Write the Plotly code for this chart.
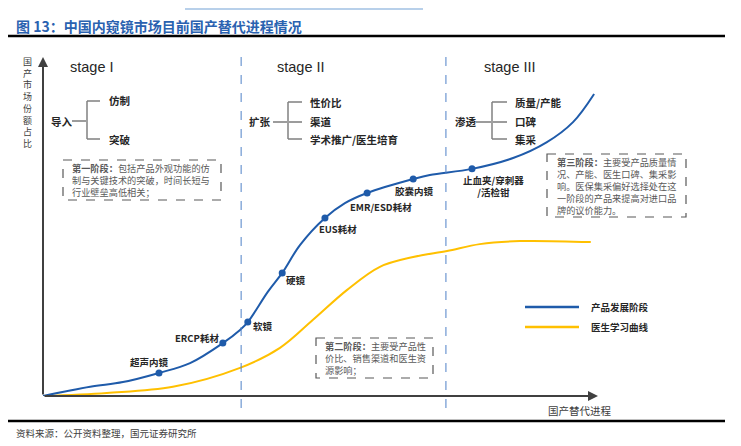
import plotly.graph_objects as go

W, H = 741, 446
OFF = 8  # the page body keeps a default 8px margin

# ---- data (x: 国产替代进程 0-100, y: 国产市场份额占比 0-100) ----
product_x = [0, 8.5, 14.4, 20.9, 26.5, 32.4, 35.5, 36.9, 40.5, 43.1, 46.3,
             50.8, 54.4, 58.4, 66.7, 69.7, 77.3, 84.7, 90.8, 95.5, 99.3]
product_y = [0, 2.7, 4.1, 6.8, 9.7, 15.6, 19.5, 21.8, 30.7, 36.3, 44.5,
             52.5, 56.9, 59.9, 64.0, 65.2, 67.0, 70.2, 74.9, 80.8, 89.1]

doctor_x = [0, 11.5, 23.4, 35.5, 42.7, 48.6, 54.8, 60.7, 66.7, 72.8, 78.7, 85.9, 98.7]
doctor_y = [0, 0.9, 2.7, 8.3, 14.2, 22.4, 31.3, 38.1, 41.0, 42.8, 44.8, 45.7, 45.4]

milestones = ["超声内镜", "ERCP耗材", "软镜", "硬镜", "EUS耗材", "EMR/ESD耗材",
              "胶囊内镜", "止血夹/穿刺器<br>/活检钳"]
milestone_x = [20.9, 32.4, 36.9, 43.1, 50.8, 58.4, 66.7, 77.3]
milestone_y = [6.8, 15.6, 21.8, 36.3, 52.5, 59.9, 64.0, 67.0]

stage_bounds = [35.7, 72.6]
stage_names = ["stage I", "stage II", "stage III"]
stage_heads = ["导入", "扩张", "渗透"]
stage_items = [["仿制", "突破"],
               ["性价比", "渠道", "学术推广/医生培育"],
               ["质量/产能", "口碑", "集采"]]
stage_notes = [
    "<b>第一阶段：</b>包括产品外观功能的仿<br>制与关键技术的突破，时间长短与<br>行业壁垒高低相关；",
    "<b>第二阶段：</b>主要受产品性<br>价比、销售渠道和医生资<br>源影响；",
    "<b>第三阶段：</b>主要受产品质量情<br>况、产能、医生口碑、集采影<br>响。医保集采偏好选择处在这<br>一阶段的产品来提高对进口品<br>牌的议价能力。",
]
series_names = ["产品发展阶段", "医生学习曲线"]

# ---- styling ----
BLUE = "#1f5baa"
GOLD = "#ffc000"
CJK = "Noto Sans CJK SC"
FW, FH = W - OFF, H - OFF


def px(x):
    return (x - OFF) / FW


def py(y):
    return 1 - (y - OFF) / FH


def txt(x, y, text, size, color="#262626", xanchor="left", family=CJK, **kw):
    return dict(x=px(x), y=py(y), xref="paper", yref="paper", text=text, showarrow=False,
                xanchor=xanchor, yanchor="middle", font=dict(family=family, size=size, color=color),
                **kw)


def hline(x0, x1, y, color, width, dash="solid"):
    return dict(type="line", xref="paper", yref="paper", x0=px(x0), x1=px(x1),
                y0=py(y), y1=py(y), line=dict(color=color, width=width, dash=dash))


label_shift = [(-9, 11), (-26, 5), (15, -4), (14, -7), (13, -11), (14, -14), (1, -12), (21, -17)]

fig = go.Figure()
fig.add_trace(go.Scatter(x=doctor_x, y=doctor_y, mode="lines", name=series_names[1],
                         line=dict(color=GOLD, width=2, shape="spline")))
fig.add_trace(go.Scatter(x=product_x, y=product_y, mode="lines", name=series_names[0],
                         line=dict(color=BLUE, width=2, shape="spline")))
fig.add_trace(go.Scatter(x=milestone_x, y=milestone_y, mode="markers",
                         marker=dict(color=BLUE, size=7)))

ann = []
shapes = []

# milestone labels
for name, x, y, (dx, dy) in zip(milestones, milestone_x, milestone_y, label_shift):
    ann.append(dict(x=x, y=y, xref="x", yref="y", text=f"<b>{name}</b>", showarrow=False,
                    xanchor="center", yanchor="middle", xshift=dx, yshift=dy,
                    font=dict(family=CJK, size=9.5, color="#262626")))

# axes with arrows
ann.append(dict(x=0, y=100, ax=0, ay=0, xref="x", yref="y", axref="x", ayref="y", text="",
                showarrow=True, arrowhead=2, arrowsize=1, arrowwidth=2, arrowcolor="#404040"))
ann.append(dict(x=100, y=0, ax=0, ay=0, xref="x", yref="y", axref="x", ayref="y", text="",
                showarrow=True, arrowhead=2, arrowsize=1, arrowwidth=2, arrowcolor="#404040"))

# stage dividers
for b in stage_bounds:
    shapes.append(dict(type="line", xref="x", yref="paper", x0=b, x1=b, y0=py(408), y1=py(57),
                       line=dict(color="#4f81c7", width=1, dash="dash")))

# stage titles and brackets
stage_title_x = [68, 275, 482]
head_x = [49, 247, 453]
bracket = [  # (h start, vertical x, tick end, item x, item ys, head y)
    (72, 87, 100, 107, [101, 139], 121),
    (273, 288, 302, 308, [102, 122, 139], 122),
    (476, 492, 507, 513, [102, 121, 139], 122),
]
for i in range(3):
    ann.append(txt(stage_title_x[i], 67, stage_names[i], 14.5, family="Liberation Sans"))
    h0, vx, tx, ix, iys, hy = bracket[i]
    ann.append(txt(head_x[i], hy, f"<b>{stage_heads[i]}</b>", 10.5))
    h_end = tx if len(iys) == 3 else vx
    shapes.append(hline(h0, h_end, hy, "#595959", 1.2))
    shapes.append(dict(type="line", xref="paper", yref="paper", x0=px(vx), x1=px(vx),
                       y0=py(iys[0]), y1=py(iys[-1]), line=dict(color="#a0a0a0", width=2)))
    for iy in (iys[0], iys[-1]):
        shapes.append(hline(vx, tx, iy, "#7f7f7f", 1.5))
    for item, iy in zip(stage_items[i], iys):
        ann.append(txt(ix, iy, f"<b>{item}</b>", 10.5))

# note boxes
boxes = [(63, 160, 221, 200, 70), (316, 338, 433, 378, 323), (547, 154, 686, 217, 555)]
for note, (x0, y0, x1, y1, tx) in zip(stage_notes, boxes):
    shapes.append(dict(type="rect", xref="paper", yref="paper", x0=px(x0), x1=px(x1),
                       y0=py(y0), y1=py(y1), line=dict(color="#595959", width=1.2, dash="dash")))
    ann.append(txt(tx, (y0 + y1) / 2, note, 9.2, color="#595959", align="left"))

# legend (manual)
for name, color, ly in zip(series_names, [BLUE, GOLD], [307, 327]):
    shapes.append(hline(525, 579, ly, color, 2.5))
    ann.append(txt(589, ly, f"<b>{name}</b>", 9.5))

# axis titles
ann.append(txt(27, 102, "<br>".join("国产市场份额占比"), 9, color="#404040", xanchor="center"))
ann.append(txt(580, 410, "国产替代进程", 10.5, color="#404040", xanchor="center"))

# title, rules and source
ann.append(txt(14, 26, "<b>图 13：中国内窥镜市场目前国产替代进程情况</b>", 14, color="#2a62b0"))
ann.append(txt(14, 433, "资料来源：公开资料整理，国元证券研究所", 9.5, color="#404040"))
for ry in (36, 421):
    shapes.append(hline(OFF, 725, ry, "black", 2.5))
shapes.append(dict(type="rect", xref="paper", yref="paper", x0=px(185), x1=px(423),
                   y0=1, y1=py(10), fillcolor="#b8d0ea", line=dict(width=0)))

fig.update_layout(
    width=FW, height=FH, margin=dict(l=0, r=0, t=0, b=0),
    paper_bgcolor="white", plot_bgcolor="white", showlegend=False,
    xaxis=dict(domain=[px(43), px(598)], range=[0, 100], visible=False),
    yaxis=dict(domain=[py(396), py(57)], range=[0, 100], visible=False),
    annotations=ann, shapes=shapes,
)

fig.write_html("out.html")
